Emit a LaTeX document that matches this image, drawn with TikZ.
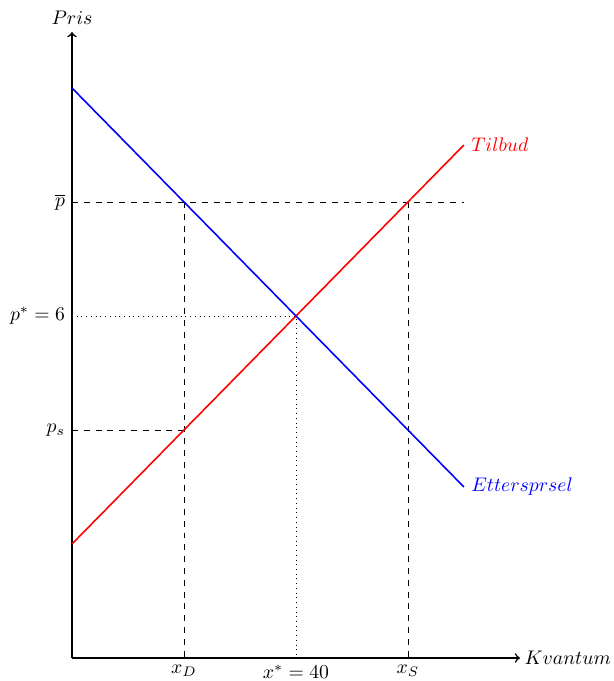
\documentclass[tikz,border=0pt]{standalone}
\usepackage{amsmath}
\usepackage{amssymb}
\usepackage{tikz}

\begin{document}
\begin{tikzpicture}[x=2cm, y=2.036cm]
		\useasboundingbox (-0.643, -0.202) rectangle (4.839, 5.772);
		\coordinate (O) at (0, 0);
		\coordinate (xend) at (4, 0);
		\coordinate (yend) at (0, 5.49);
		\coordinate (s0) at (0, 1);
		\coordinate (s1) at (3.5, 4.5);
		\coordinate (d0) at (0, 5);
		\coordinate (d1) at (3.5, 1.5);
		\coordinate (pbar) at (0, 4);
		\coordinate (pstar) at (0, 3);
		\coordinate (ps) at (0, 2);
		\coordinate (xD) at (1, 0);
		\coordinate (xstar) at (2, 0);
		\coordinate (xS) at (3, 0);
		\coordinate (D) at (1, 4);
		\coordinate (S) at (3, 4);
		\coordinate (E) at (2, 3);
		\coordinate (L) at (1, 2);
		\coordinate (pend) at (3.5, 4);
		\draw[->, thick] (O) -- (xend) node[right, inner sep=2pt] {$Kvantum$};
		\draw[->, thick] (O) -- (yend) node[above] {$Pris$};
		\draw[-, dashed] (pbar) node[left] {$\overline{p}$} -- (pend);
		\draw[-, dashed] (D) -- (xD) node[below] {$x_D$};
		\draw[-, dashed] (S) -- (xS) node[below] {$x_S$};
		\draw[-, dashed] (ps) node[left] {$p_s$} -- (L);
		\draw[-, dotted] (pstar) node[left] {$p^* = 6$} -- (E) -- (xstar) node[below] {$x^* = 40$};
		\draw[-, thick, red] (s0) -- (s1) node[right] {$Tilbud$};
		\draw[-, thick, blue] (d0) -- (d1) node[right] {$Ettersprsel$};
	\end{tikzpicture}
\end{document}
